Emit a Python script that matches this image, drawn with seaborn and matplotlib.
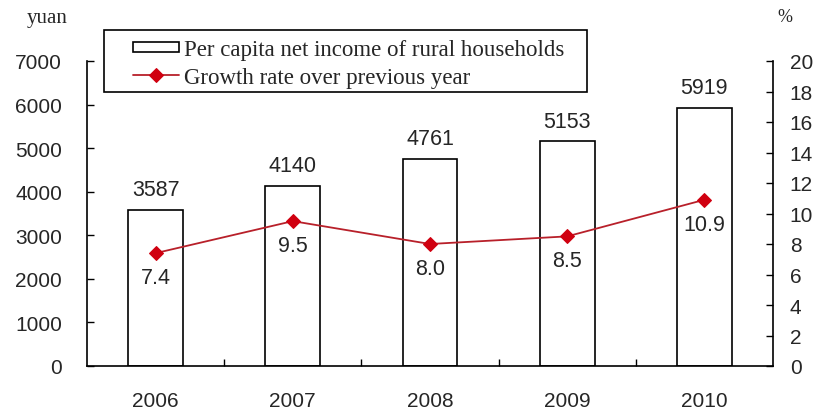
import matplotlib
matplotlib.use("Agg")
import matplotlib.pyplot as plt
import seaborn as sns
import pandas as pd
from matplotlib.ticker import MultipleLocator, FixedLocator
from matplotlib.patches import Rectangle
from matplotlib.legend_handler import HandlerPatch, update_from_first_child

years = ["2006", "2007", "2008", "2009", "2010"]
income = [3587, 4140, 4761, 5153, 5919]
growth = [7.4, 9.5, 8.0, 8.5, 10.9]
bar_label_name = "Per capita net income of rural households"
line_label_name = "Growth rate over previous year"

df = pd.DataFrame({"year": years, "income": income, "growth": growth})

sns.set_theme(style="white")
plt.rcParams["font.family"] = ["Liberation Sans Narrow", "Liberation Sans", "DejaVu Sans"]
num_font = ["Liberation Sans Narrow", "Liberation Sans", "DejaVu Sans"]
serif_font = ["Liberation Serif", "DejaVu Serif"]

W, H = 817, 414
fig = plt.figure(figsize=(W / 100, H / 100), dpi=100)
ax = fig.add_axes([87 / W, 1 - 367 / H, (773 - 87) / W, (367 - 62) / H])

sns.barplot(data=df, x="year", y="income", order=years, ax=ax, width=0.4,
            color="white", edgecolor="black", linewidth=1.2, label=bar_label_name)
for p in ax.patches:
    p.set_facecolor("white")
ax.bar_label(ax.containers[0], labels=[str(v) for v in income], padding=7,
             fontsize=15.5, family=num_font)

ax.set_ylim(0, 7000)
ax.set_xlim(-0.5, len(years) - 0.5)
ax.yaxis.set_major_locator(MultipleLocator(1000))
ax.set_xlabel("")
ax.set_ylabel("")

ax2 = ax.twinx()
sns.lineplot(data=df, x="year", y="growth", ax=ax2, color="#b8202a", linewidth=1.3,
             marker="D", markersize=7, markerfacecolor="#d00010", markeredgecolor="#d00010",
             label=line_label_name, legend=False)
ax2.set_ylim(0, 20)
ax2.set_xlim(-0.5, len(years) - 0.5)
ax2.yaxis.set_major_locator(MultipleLocator(2))
ax2.set_ylabel("")
for i, g in enumerate(growth):
    ax2.annotate(f"{g:.1f}", xy=(i, g), xytext=(0, -10), textcoords="offset points",
                 ha="center", va="top", fontsize=15.5, family=num_font)

for a in (ax, ax2):
    for s in a.spines.values():
        s.set_visible(False)
ax.spines["left"].set_visible(True)
ax.spines["bottom"].set_visible(True)
ax2.spines["right"].set_visible(True)
for s in ("left", "bottom"):
    ax.spines[s].set_color("black")
    ax.spines[s].set_linewidth(1.2)
ax2.spines["right"].set_color("black")
ax2.spines["right"].set_linewidth(1.2)

ax.tick_params(axis="y", direction="in", length=5, width=1, color="black",
               labelsize=15, left=True, pad=18)
ax2.tick_params(axis="y", direction="in", length=5, width=1, color="black",
                labelsize=15, right=True, pad=12)
ax.tick_params(axis="x", which="major", length=0, labelsize=15, pad=18)
ax.xaxis.set_minor_locator(FixedLocator([i + 0.5 for i in range(len(years) - 1)]))
ax.tick_params(axis="x", which="minor", direction="in", length=5, width=1,
               color="black", bottom=True)
for lab in ax.get_xticklabels() + ax.get_yticklabels() + ax2.get_yticklabels():
    lab.set_family(num_font)


def rect_handle(legend, orig_handle, xdescent, ydescent, width, height, fontsize):
    return Rectangle((-xdescent, -ydescent + 0.18 * height), width, 0.64 * height)


h1, l1 = ax.get_legend_handles_labels()
h2, l2 = ax2.get_legend_handles_labels()
leg = ax.legend(h1 + h2, l1 + l2, loc="upper left",
                bbox_to_anchor=(133 / W, 1 - 40 / H), bbox_transform=fig.transFigure,
                frameon=False, prop={"family": serif_font, "size": 16.5},
                handlelength=2.0, handletextpad=0.22, borderpad=0,
                labelspacing=0.29, borderaxespad=0,
                handler_map={type(h1[0]): HandlerPatch(patch_func=rect_handle,
                                                       update_func=update_from_first_child)})
leg.set_zorder(10)
frame = Rectangle((104 / W, 1 - 93 / H), (587 - 104) / W, (93 - 31) / H,
                  transform=fig.transFigure, facecolor="white", edgecolor="black",
                  linewidth=1.2, clip_on=False, zorder=9)
ax.add_patch(frame)

fig.text(47 / W, 1 - 18 / H, "yuan", ha="center", va="center",
         fontsize=15, family=serif_font)
fig.text(785 / W, 1 - 18 / H, "%", ha="center", va="center",
         fontsize=13, family=serif_font)

fig.savefig("out.png", dpi=100, facecolor="white")
